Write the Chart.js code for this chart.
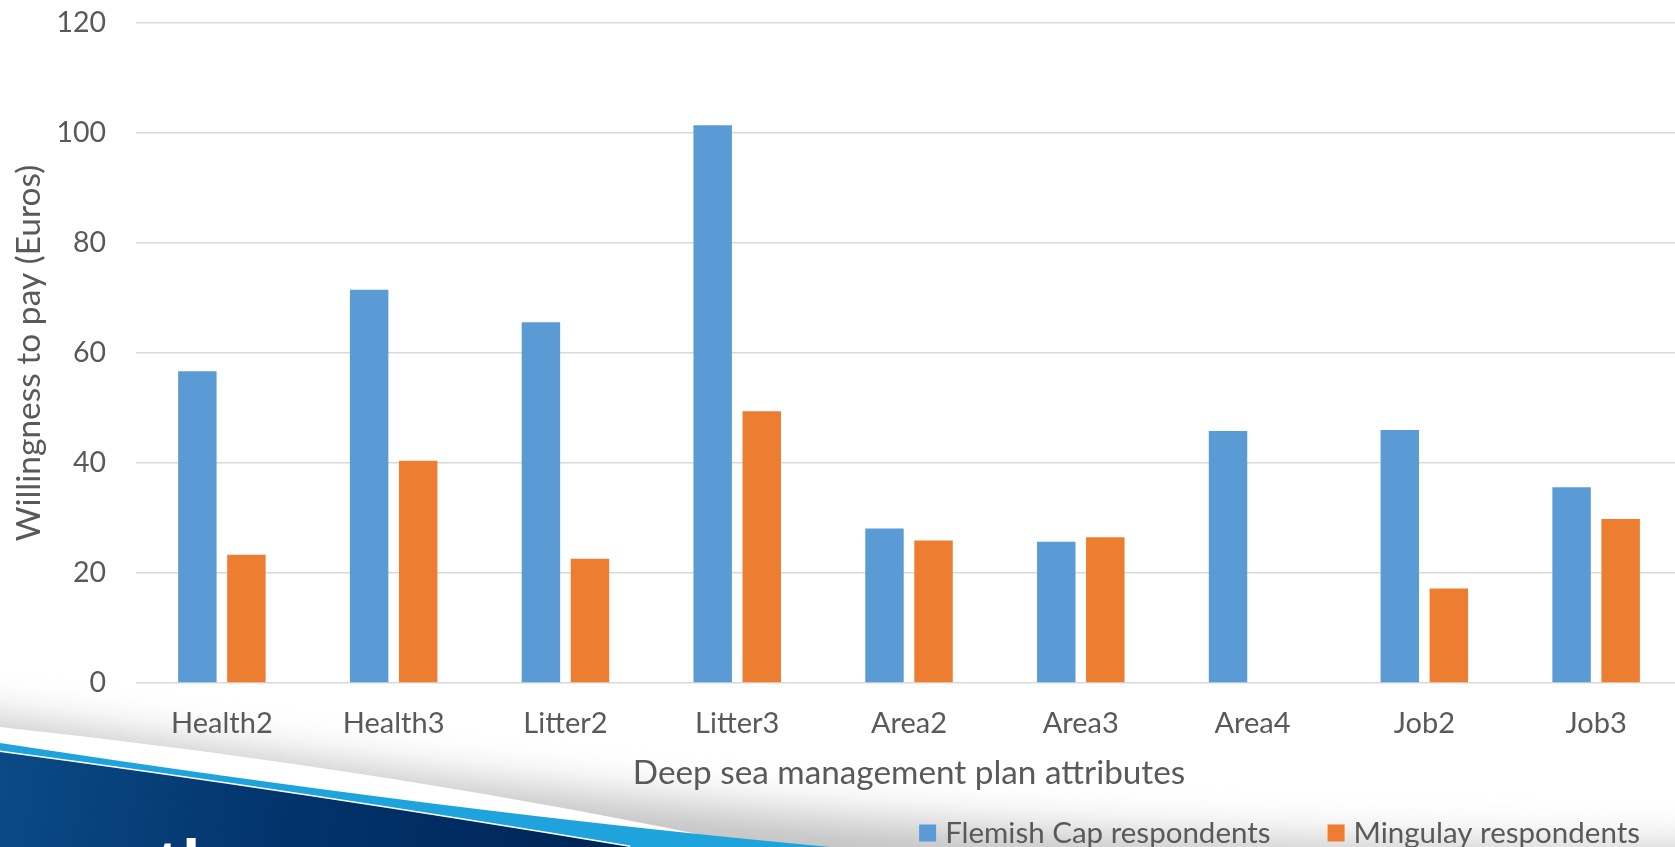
<!DOCTYPE html>
<html>
<head>
<meta charset="utf-8">
<script src="https://cdn.jsdelivr.net/npm/chart.js@4.4.0/dist/chart.umd.min.js"></script>
<style>
html, body { margin:0; padding:0; background:#fff; overflow:hidden; }
#wrap { width:1675px; height:847px; position:relative; overflow:hidden; }
canvas { display:block; }
</style>
</head>
<body>
<div id="wrap"><canvas id="grafico" width="1682" height="847"></canvas></div>
<script>
var atributos = ['Health2', 'Health3', 'Litter2', 'Litter3', 'Area2', 'Area3', 'Area4', 'Job2', 'Job3'];
var flemish_cap = [56.7, 71.5, 65.6, 101.4, 28.1, 25.7, 45.8, 46.0, 35.6];
var mingulay = [23.3, 40.4, 22.6, 49.4, 25.9, 26.5, null, 17.2, 29.8];
var ticks_y = [0, 20, 40, 60, 80, 100, 120];

var FUENTE = 'Lato';
var GRIS_TEXTO = '#595959';

// slide background swoosh, drawn under the chart
var fondo = {
    id: 'fondo',
    beforeDraw: function(chart){
        var ctx = chart.ctx;
        var W = chart.width, H = chart.height;
        ctx.save();
        ctx.fillStyle = '#ffffff';
        ctx.fillRect(0, 0, W, H);

        // soft grey shadow above the band
        ctx.save();
        ctx.filter = 'blur(22px)';
        ctx.beginPath();
        ctx.moveTo(-60, 712);
        ctx.bezierCurveTo(500, 790, 900, 845, W + 60, 850);
        ctx.lineTo(W + 60, H + 80);
        ctx.lineTo(-60, H + 80);
        ctx.closePath();
        ctx.fillStyle = '#c2c2c2';
        ctx.fill();
        ctx.restore();

        ctx.beginPath();
        ctx.moveTo(0, 727);
        ctx.quadraticCurveTo(400, 770, 760, H);
        ctx.lineTo(0, H);
        ctx.closePath();
        ctx.fillStyle = '#ffffff';
        ctx.fill();

        ctx.beginPath();
        ctx.moveTo(0, 743);
        ctx.quadraticCurveTo(450, 812, 830, H);
        ctx.lineTo(0, H);
        ctx.closePath();
        ctx.fillStyle = '#1fa3dc';
        ctx.fill();

        ctx.beginPath();
        ctx.moveTo(0, 752);
        ctx.quadraticCurveTo(300, 792, 630, H);
        ctx.lineTo(0, H);
        ctx.closePath();
        ctx.strokeStyle = '#ffffff';
        ctx.lineWidth = 3;
        ctx.stroke();
        var n = ctx.createLinearGradient(0, 750, 600, H);
        n.addColorStop(0, '#0b4a86');
        n.addColorStop(0.5, '#02336b');
        n.addColorStop(1, '#002557');
        ctx.fillStyle = n;
        ctx.fill();

        ctx.fillStyle = '#ffffff';
        ctx.font = 'bold 60px "Open Sans"';
        ctx.textBaseline = 'alphabetic';
        ctx.fillText('th', 156, 884);
        ctx.restore();
    }
};

// legend drawn by hand, bottom right
var leyenda = {
    id: 'leyenda',
    afterDraw: function(chart){
        var ctx = chart.ctx;
        var sets = chart.data.datasets;
        var caja = 17, sep = 9, hueco = 57, yc = 833;
        ctx.save();
        ctx.font = '29.5px ' + FUENTE;
        ctx.textBaseline = 'middle';
        var total = 0;
        for (var i = 0; i < sets.length; i++){
            total += caja + sep + ctx.measureText(sets[i].label).width;
            if (i > 0) total += hueco;
        }
        var x = 1640 - total;
        for (var i = 0; i < sets.length; i++){
            ctx.fillStyle = sets[i].backgroundColor;
            ctx.fillRect(x, yc - caja/2, caja, caja);
            x += caja + sep;
            ctx.fillStyle = GRIS_TEXTO;
            ctx.fillText(sets[i].label, x, yc);
            x += ctx.measureText(sets[i].label).width + hueco;
        }
        ctx.restore();
    }
};

var canvas_ref = document.getElementById('grafico');
var barChart = new Chart(canvas_ref, {
    type: 'bar',
    data: {
        labels: atributos,
        datasets: [
            {label: 'Flemish Cap respondents', data: flemish_cap, backgroundColor: '#5B9BD5',
             categoryPercentage: 0.571, barPercentage: 0.784},
            {label: 'Mingulay respondents', data: mingulay, backgroundColor: '#ED7D31',
             categoryPercentage: 0.571, barPercentage: 0.784}
        ]
    },
    options: {
        responsive: false,
        animation: false,
        layout: {padding: {top: 23, right: 0, bottom: 28, left: 0}},
        plugins: {
            legend: {display: false},
            tooltip: {enabled: false}
        },
        scales: {
            x: {
                grid: {display: false},
                border: {display: false},
                ticks: {color: GRIS_TEXTO, font: {family: FUENTE, size: 29}, padding: 15, maxRotation: 0},
                title: {display: true, text: 'Deep sea management plan attributes', color: GRIS_TEXTO,
                        font: {family: FUENTE, size: 33.3}, padding: {top: 0, bottom: 26}},
                afterFit: function(scale){
                    scale.height = 136;
                    scale.paddingLeft = 0;
                    scale.paddingRight = 0;
                }
            },
            y: {
                min: 0, max: 120,
                grid: {color: '#d9d9d9', lineWidth: 1.5, drawTicks: false},
                border: {display: false},
                ticks: {color: GRIS_TEXTO, font: {family: FUENTE, size: 28.5}, padding: 30},
                afterBuildTicks: function(scale){
                    scale.ticks = ticks_y.map(function(v){ return {value: v}; });
                },
                title: {display: true, text: 'Willingness to pay (Euros)', color: GRIS_TEXTO,
                        font: {family: FUENTE, size: 33.5}, padding: {top: 9, bottom: 0}},
                afterFit: function(scale){
                    scale.width = 136;
                    scale.paddingTop = 0;
                    scale.paddingBottom = 0;
                }
            }
        }
    },
    plugins: [fondo, leyenda]
});
</script>
</body>
</html>
